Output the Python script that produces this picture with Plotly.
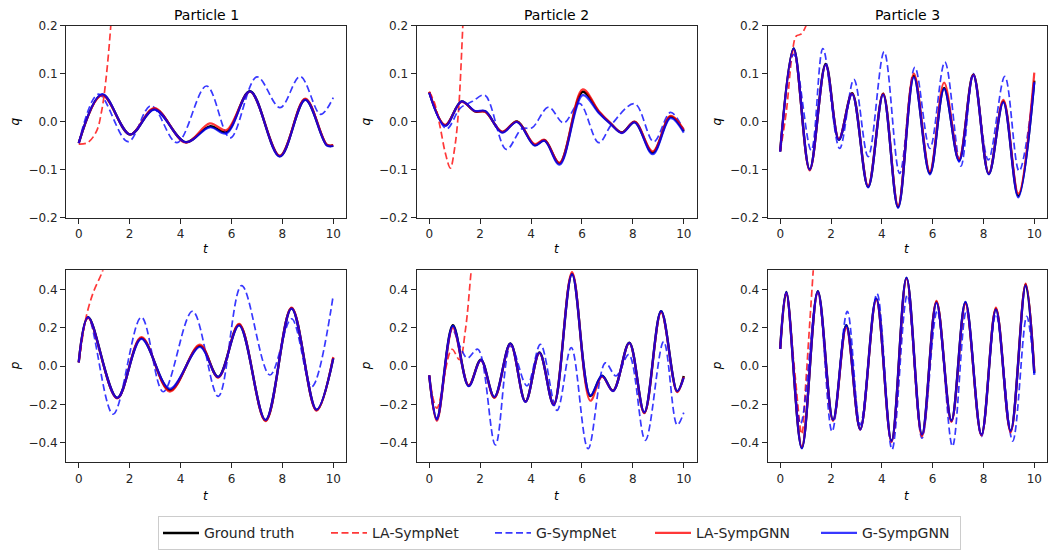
import plotly.graph_objects as go
from plotly.subplots import make_subplots

# ---------------- data ----------------
X_TICKS = [0, 2, 4, 6, 8, 10]
Q_TICKS = [-0.2, -0.1, 0.0, 0.1, 0.2]
Q_TICKTEXT = ["\u22120.2", "\u22120.1", "0.0", "0.1", "0.2"]
P_TICKS = [-0.4, -0.2, 0.0, 0.2, 0.4]
P_TICKTEXT = ["\u22120.4", "\u22120.2", "0.0", "0.2", "0.4"]
TITLES = ["Particle 1", "Particle 2", "Particle 3"]
SERIES = ["Ground truth", "LA-SympNet", "G-SympNet", "LA-SympGNN", "G-SympGNN"]

# Particle 1, q
T_Q1 = [0, 0.92, 2.02, 2.97, 4.2, 5.15, 5.8, 6.73, 7.9, 8.9, 9.75, 10]
Q1_TRUE = [-0.045, 0.056, -0.027, 0.026, -0.043, -0.010, -0.022, 0.063, -0.072, 0.046, -0.049, -0.05]
Q1_LAGNN = [-0.045, 0.055, -0.027, 0.028, -0.044, -0.004, -0.018, 0.062, -0.071, 0.048, -0.048, -0.049]
Q1_GGNN = [-0.045, 0.057, -0.027, 0.025, -0.043, -0.012, -0.025, 0.063, -0.073, 0.045, -0.05, -0.051]
T_Q1_GNET = [0, 0.78, 1.94, 2.84, 3.86, 5.02, 5.95, 7.0, 7.91, 8.7, 9.5, 10]
Q1_GNET = [-0.045, 0.057, -0.042, 0.033, -0.044, 0.074, -0.034, 0.093, 0.029, 0.094, 0.015, 0.05]
T_Q1_LANET = [0, 0.35, 0.7, 0.9, 1.06, 1.26, 1.4]
Q1_LANET = [-0.047, -0.044, -0.02, 0.022, 0.083, 0.2, 0.32]

# Particle 2, q
T_Q2 = [0, 0.63, 1.27, 1.8, 2.2, 2.86, 3.45, 4.14, 4.53, 5.12, 6.03, 6.66, 7.12, 7.57, 8.07, 8.78, 9.48, 10]
Q2_TRUE = [0.061, -0.008, 0.042, 0.021, 0.021, -0.022, 0.0, -0.049, -0.039, -0.087, 0.062, 0.02, -0.004, -0.023, -0.001, -0.065, 0.01, -0.02]
Q2_LAGNN = [0.062, -0.007, 0.041, 0.021, 0.02, -0.021, 0.0, -0.047, -0.038, -0.086, 0.067, 0.022, -0.003, -0.023, 0.0, -0.062, 0.012, -0.017]
Q2_GGNN = [0.06, -0.009, 0.042, 0.022, 0.022, -0.023, -0.001, -0.05, -0.04, -0.09, 0.055, 0.018, -0.005, -0.024, -0.002, -0.068, 0.007, -0.023]
T_Q2_GNET = [0, 0.68, 1.22, 1.7, 2.18, 3.03, 3.64, 4.04, 4.69, 5.28, 5.9, 6.66, 7.18, 8.07, 8.82, 9.48, 10]
Q2_GNET = [0.06, -0.015, 0.028, 0.042, 0.055, -0.058, -0.015, -0.013, 0.03, -0.003, 0.038, -0.044, -0.005, 0.037, -0.042, 0.019, -0.018]
T_Q2_LANET = [0, 0.2, 0.43, 0.63, 0.83, 1.0, 1.15, 1.32, 1.42]
Q2_LANET = [0.062, 0.04, -0.012, -0.065, -0.097, -0.055, 0.022, 0.2, 0.32]

# Particle 3, q
T_Q3 = [0, 0.53, 1.16, 1.79, 2.31, 2.83, 3.46, 4.05, 4.64, 5.26, 5.89, 6.45, 7.04, 7.6, 8.21, 8.78, 9.37, 10]
Q3_TRUE = [-0.062, 0.152, -0.1, 0.12, -0.038, 0.059, -0.136, 0.058, -0.178, 0.095, -0.108, 0.07, -0.081, 0.098, -0.109, 0.042, -0.155, 0.085]
Q3_LAGNN = [-0.062, 0.15, -0.102, 0.118, -0.036, 0.058, -0.134, 0.058, -0.175, 0.1, -0.104, 0.081, -0.078, 0.097, -0.108, 0.045, -0.15, 0.102]
Q3_GGNN = [-0.063, 0.152, -0.1, 0.118, -0.038, 0.057, -0.137, 0.056, -0.18, 0.092, -0.11, 0.068, -0.083, 0.096, -0.11, 0.04, -0.158, 0.082]
T_Q3_GNET = [0, 0.53, 1.22, 1.68, 2.34, 2.9, 3.46, 4.09, 4.7, 5.3, 5.89, 6.48, 7.11, 7.6, 8.19, 8.84, 9.4, 10]
Q3_GNET = [-0.062, 0.14, -0.06, 0.152, -0.056, 0.088, -0.073, 0.145, -0.108, 0.113, -0.056, 0.124, -0.093, 0.1, -0.08, 0.094, -0.103, 0.08]
T_Q3_LANET = [0, 0.24, 0.46, 0.63, 0.82, 1.02, 1.15]
Q3_LANET = [-0.062, 0.02, 0.135, 0.178, 0.182, 0.2, 0.23]

# Particle 1, p
T_P1 = [0, 0.37, 1.51, 2.46, 3.58, 4.76, 5.48, 6.3, 7.34, 8.36, 9.34, 10]
P1_TRUE = [0.02, 0.255, -0.165, 0.146, -0.125, 0.106, -0.056, 0.216, -0.282, 0.302, -0.228, 0.043]
P1_LAGNN = [0.02, 0.252, -0.168, 0.152, -0.132, 0.112, -0.06, 0.22, -0.286, 0.305, -0.232, 0.048]
P1_GGNN = [0.02, 0.255, -0.165, 0.142, -0.118, 0.1, -0.056, 0.212, -0.28, 0.3, -0.226, 0.04]
T_P1_GNET = [0, 0.37, 1.35, 2.46, 3.32, 4.47, 5.48, 6.4, 7.51, 8.36, 9.15, 10]
P1_GNET = [0.02, 0.255, -0.25, 0.255, -0.133, 0.286, -0.157, 0.42, -0.046, 0.247, -0.107, 0.37]
T_P1_LANET = [0, 0.15, 0.28, 0.56, 0.92, 1.1]
P1_LANET = [0.02, 0.15, 0.25, 0.38, 0.49, 0.57]

# Particle 2, p
T_P2 = [0, 0.3, 0.93, 1.55, 2.03, 2.56, 3.19, 3.78, 4.33, 4.89, 5.61, 6.33, 6.79, 7.22, 7.86, 8.45, 9.11, 9.74, 10]
P2_TRUE = [-0.048, -0.276, 0.213, -0.102, 0.034, -0.162, 0.119, -0.184, 0.071, -0.2, 0.48, -0.155, -0.05, -0.128, 0.122, -0.242, 0.286, -0.131, -0.051]
P2_LAGNN = [-0.048, -0.285, 0.2, -0.1, 0.03, -0.165, 0.115, -0.185, 0.068, -0.2, 0.49, -0.18, -0.055, -0.128, 0.12, -0.245, 0.28, -0.135, -0.055]
P2_GGNN = [-0.048, -0.278, 0.21, -0.104, 0.032, -0.16, 0.118, -0.186, 0.07, -0.203, 0.478, -0.152, -0.05, -0.13, 0.121, -0.24, 0.287, -0.13, -0.06]
T_P2_GNET = [0, 0.3, 0.9, 1.22, 1.5, 1.91, 2.6, 3.2, 3.84, 4.37, 5.02, 5.58, 6.24, 6.92, 7.34, 7.84, 8.49, 9.21, 9.74, 10]
P2_GNET = [-0.048, -0.27, 0.19, 0.1, 0.042, 0.088, -0.41, 0.105, -0.102, 0.114, -0.23, 0.097, -0.43, 0.017, -0.051, 0.06, -0.386, 0.128, -0.306, -0.242]
T_P2_LANET = [0, 0.3, 0.89, 1.19, 1.42, 1.65, 1.75]
P2_LANET = [-0.048, -0.218, 0.088, 0.034, 0.187, 0.5, 0.62]

# Particle 3, p
T_P3 = [0, 0.24, 0.85, 1.48, 2.08, 2.6, 3.15, 3.78, 4.38, 4.97, 5.58, 6.15, 6.74, 7.29, 7.92, 8.49, 9.07, 9.66, 10]
P3_TRUE = [0.09, 0.386, -0.425, 0.39, -0.28, 0.213, -0.328, 0.352, -0.388, 0.46, -0.357, 0.335, -0.284, 0.332, -0.357, 0.298, -0.337, 0.426, -0.035]
P3_LAGNN = [0.09, 0.38, -0.42, 0.385, -0.285, 0.2, -0.33, 0.345, -0.395, 0.455, -0.365, 0.34, -0.29, 0.325, -0.36, 0.305, -0.345, 0.43, -0.026]
P3_GGNN = [0.09, 0.386, -0.428, 0.39, -0.28, 0.213, -0.33, 0.352, -0.39, 0.462, -0.355, 0.33, -0.284, 0.335, -0.357, 0.295, -0.337, 0.42, -0.045]
T_P3_GNET = [0, 0.24, 0.8, 1.48, 2.04, 2.64, 3.15, 3.81, 4.4, 5.0, 5.58, 6.18, 6.78, 7.33, 7.92, 8.49, 9.15, 9.7, 10]
P3_GNET = [0.09, 0.38, -0.3, 0.38, -0.34, 0.286, -0.306, 0.378, -0.434, 0.37, -0.375, 0.29, -0.417, 0.29, -0.366, 0.272, -0.39, 0.26, -0.034]
T_P3_LANET = [0, 0.24, 0.55, 0.85, 1.0, 1.15, 1.3, 1.4]
P3_LANET = [0.09, 0.38, 0.0, -0.354, -0.1, 0.2, 0.5, 0.7]

# ---------------- figure ----------------
W, H = 1048, 554
FONT = "DejaVu Sans"
RED = "rgba(255,0,0,0.78)"
BLUE = "rgba(0,0,255,0.78)"
STYLES = {
    "Ground truth": dict(color="black", width=2.4, dash="solid"),
    "LA-SympNet": dict(color=RED, width=1.7, dash="7px,3.5px"),
    "G-SympNet": dict(color=BLUE, width=1.7, dash="7px,3.5px"),
    "LA-SympGNN": dict(color=RED, width=2.2, dash="solid"),
    "G-SympGNN": dict(color=BLUE, width=2.2, dash="solid"),
}
LEG_W = {"Ground truth": 117, "LA-SympNet": 113, "G-SympNet": 109,
         "LA-SympGNN": 115, "G-SympGNN": 93}

fig = make_subplots(rows=2, cols=3)

panels = [
    (1, 1, T_Q1, Q1_TRUE, Q1_LAGNN, Q1_GGNN, T_Q1_GNET, Q1_GNET, T_Q1_LANET, Q1_LANET),
    (1, 2, T_Q2, Q2_TRUE, Q2_LAGNN, Q2_GGNN, T_Q2_GNET, Q2_GNET, T_Q2_LANET, Q2_LANET),
    (1, 3, T_Q3, Q3_TRUE, Q3_LAGNN, Q3_GGNN, T_Q3_GNET, Q3_GNET, T_Q3_LANET, Q3_LANET),
    (2, 1, T_P1, P1_TRUE, P1_LAGNN, P1_GGNN, T_P1_GNET, P1_GNET, T_P1_LANET, P1_LANET),
    (2, 2, T_P2, P2_TRUE, P2_LAGNN, P2_GGNN, T_P2_GNET, P2_GNET, T_P2_LANET, P2_LANET),
    (2, 3, T_P3, P3_TRUE, P3_LAGNN, P3_GGNN, T_P3_GNET, P3_GNET, T_P3_LANET, P3_LANET),
]

for (r, c, t, yt, ylag, ygg, tgn, ygn, tla, yla) in panels:
    data = {
        "Ground truth": (t, yt),
        "LA-SympNet": (tla, yla),
        "G-SympNet": (tgn, ygn),
        "LA-SympGNN": (t, ylag),
        "G-SympGNN": (t, ygg),
    }
    for name in SERIES:
        x, y = data[name]
        st = STYLES[name]
        fig.add_trace(go.Scatter(
            x=x, y=y, mode="lines", name=name,
            line=dict(color=st["color"], width=st["width"], dash=st["dash"],
                      shape="spline", smoothing=1.0),
            showlegend=(r == 1 and c == 1), legendgroup=name,
            legendwidth=LEG_W[name], hoverinfo="skip",
        ), row=r, col=c)

X_DOM = [[66 / W, 346 / W], [416.5 / W, 696.5 / W], [767.5 / W, 1047 / W]]
Y_DOM = [[1 - 216 / H, 1 - 19 / H], [1 - 467 / H, 1 - 270 / H]]

axis_common = dict(showline=True, mirror=True, linecolor="#262626", linewidth=1,
                   ticks="outside", ticklen=5, tickwidth=1, tickcolor="#262626",
                   showgrid=False, zeroline=False, fixedrange=True,
                   tickfont=dict(family=FONT, size=12, color="#262626"))

for r in (1, 2):
    for c in (1, 2, 3):
        idx = (r - 1) * 3 + c
        sfx = "" if idx == 1 else str(idx)
        fig.layout["xaxis" + sfx].update(
            domain=X_DOM[c - 1], range=[-0.5, 10.5],
            tickvals=X_TICKS, ticktext=[str(v) for v in X_TICKS], **axis_common)
        if r == 1:
            fig.layout["yaxis" + sfx].update(
                domain=Y_DOM[0], range=[-0.2, 0.2],
                tickvals=Q_TICKS, ticktext=Q_TICKTEXT, **axis_common)
        else:
            fig.layout["yaxis" + sfx].update(
                domain=Y_DOM[1], range=[-0.5, 0.5],
                tickvals=P_TICKS, ticktext=P_TICKTEXT, **axis_common)

ann = []
centers = [(66 + 346) / 2, (416.5 + 696.5) / 2, (767.5 + 1047) / 2]
ylab_x = [15, 366, 717]
for i, cx in enumerate(centers):
    ann.append(dict(text=TITLES[i], x=cx / W, y=1 - 8 / H, xref="paper", yref="paper",
                    xanchor="center", yanchor="middle", showarrow=False,
                    font=dict(family=FONT, size=14, color="black")))
    for ty in (248, 502):
        ann.append(dict(text="<i>t</i>", x=cx / W, y=1 - ty / H, xref="paper", yref="paper",
                        xanchor="center", yanchor="middle", showarrow=False,
                        font=dict(family=FONT, size=12, color="black")))
    for lab, ly in (("q", 117.5), ("p", 368.5)):
        ann.append(dict(text="<i>%s</i>" % lab, x=ylab_x[i] / W, y=1 - ly / H,
                        xref="paper", yref="paper", textangle=-90,
                        xanchor="center", yanchor="middle", showarrow=False,
                        font=dict(family=FONT, size=12, color="black")))

fig.update_layout(
    width=W, height=H, margin=dict(l=0, r=0, t=0, b=0),
    paper_bgcolor="white", plot_bgcolor="white",
    font=dict(family=FONT, size=12, color="black"),
    annotations=ann,
    legend=dict(orientation="h", x=158 / W, xanchor="left", y=1 - 540 / H, yanchor="middle",
                bgcolor="white", bordercolor="#cccccc", borderwidth=1,
                font=dict(family=FONT, size=14, color="#262626"),
                itemwidth=36, tracegroupgap=0),
    showlegend=True,
)

fig.write_html(
    "out.html",
    config={"displayModeBar": False, "staticPlot": True},
    post_script="document.body.style.margin='0';document.body.style.padding='0';"
                "document.body.style.overflow='hidden';",
)
